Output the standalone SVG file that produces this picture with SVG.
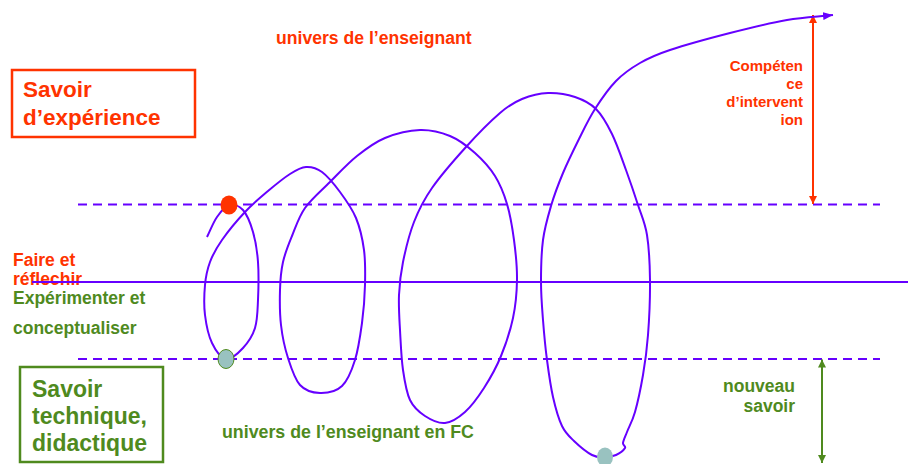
<svg xmlns="http://www.w3.org/2000/svg" width="908" height="464" viewBox="0 0 908 464">
<style>
text{font-family:"Liberation Sans",Arial,sans-serif;font-weight:bold}
.r{fill:#FF3300}
.g{fill:#4F8A1E}
.pl{stroke:#6600FF;stroke-width:2;fill:none}
.dash{stroke:#6600FF;stroke-width:2;stroke-dasharray:9 6;fill:none}
</style>
<defs>
<marker id="ap" viewBox="0 0 10 8" refX="10" refY="4" markerWidth="10" markerHeight="8" markerUnits="userSpaceOnUse" orient="auto"><path d="M0,0 L10,4 L0,8 z" fill="#6600FF"/></marker>
<marker id="ar" viewBox="0 0 8 8" refX="8" refY="4" markerWidth="8" markerHeight="8" markerUnits="userSpaceOnUse" orient="auto"><path d="M0,0 L8,4 L0,8 z" fill="#FF3300"/></marker>
<marker id="ag" viewBox="0 0 8 8" refX="8" refY="4" markerWidth="8" markerHeight="8" markerUnits="userSpaceOnUse" orient="auto"><path d="M0,0 L8,4 L0,8 z" fill="#4F8A1E"/></marker>
</defs>
<rect width="908" height="464" fill="#fff"/>

<g id="univers-enseignant"><text class="r" x="276" y="44" font-size="17.6">univers de l’enseignant</text></g>
<g id="savoir-experience">
<rect x="12" y="70" width="183" height="67" fill="none" stroke="#FF3300" stroke-width="2.5"/>
<text class="r" x="23" y="97" font-size="22.5">Savoir</text>
<text class="r" x="23" y="125" font-size="22.5">d’expérience</text>
</g>
<g id="competence">
<text class="r" font-size="15" text-anchor="end"><tspan x="803" y="71">Compéten</tspan><tspan x="803" y="89">ce</tspan><tspan x="803" y="107">d’intervent</tspan><tspan x="803" y="125">ion</tspan></text>
</g>
<g id="faire-reflechir">
<text class="r" x="13" y="266" font-size="17.5">Faire et</text>
<text class="r" x="13" y="285" font-size="17.5">réflechir</text>
</g>
<g id="experimenter">
<text class="g" x="13" y="304" font-size="17.5">Expérimenter et</text>
<text class="g" x="13" y="334" font-size="17.5">conceptualiser</text>
</g>
<g id="savoir-technique">
<rect x="20" y="367" width="143" height="95" fill="none" stroke="#4F8A1E" stroke-width="2.5"/>
<text class="g" x="32" y="397" font-size="23">Savoir</text>
<text class="g" x="32" y="423.5" font-size="23">technique,</text>
<text class="g" x="32" y="451" font-size="23">didactique</text>
</g>
<g id="univers-fc"><text class="g" x="222" y="438" font-size="17.8">univers de l’enseignant en FC</text></g>
<g id="nouveau-savoir">
<text class="g" font-size="17.5" text-anchor="end"><tspan x="795" y="392">nouveau</tspan><tspan x="795" y="412">savoir</tspan></text>
</g>

<g id="connectors">
<line class="pl" x1="32" y1="282" x2="908" y2="282"/>
<line class="dash" x1="78" y1="204.5" x2="880" y2="204.5"/>
<line class="dash" x1="78" y1="359" x2="880" y2="359"/>
<line x1="813" y1="110" x2="813" y2="15" stroke="#FF3300" stroke-width="2" marker-end="url(#ar)"/>
<line x1="813" y1="110" x2="813" y2="204" stroke="#FF3300" stroke-width="2" marker-end="url(#ar)"/>
<line x1="822" y1="410" x2="822" y2="359.5" stroke="#4F8A1E" stroke-width="2" marker-end="url(#ag)"/>
<line x1="822" y1="410" x2="822" y2="463" stroke="#4F8A1E" stroke-width="2" marker-end="url(#ag)"/>
<path id="spiral" class="pl" marker-end="url(#ap)" d="M207,237 C210.3,230.3 213.3,222.3 217,217 S224.7,206.2 229,205 S239,205.5 243,210 S250.5,223.3 253,232 S257.2,250.7 258,262 S258.5,289 258,300 S257.5,320 255,328 S247.8,342.8 243,348 S231.2,359.8 226,359 S215.5,350.3 212,343 S206.2,324.7 205,315 S204.2,293.8 205,285 S207.2,269.5 210,262 S216.2,248.3 222,240 S237.3,220.2 245,212 S260.5,197.3 268,191 S283.7,178 290,174 S300.7,167.3 306,167 S316.3,167.8 322,172 S334.3,184.3 340,192 S352,208.3 356,218 S362.5,238.8 364,250 S365.3,272.8 365,285 S363.7,310.5 362,323 S358.3,349.5 355,360 S347.8,380.5 342,386 S327,393.2 320,393 S305.3,390.8 300,385 S291.2,368 288,358 S282.3,336.3 281,325 S279.7,300.5 280,290 S281,271 283,262 S288.3,245 292,236 S298.7,217 305,208 S321.3,190.7 330,182 S347.8,163.3 357,156 S374.5,142.3 385,138 S409.2,130.3 420,130 S440.8,132.2 450,136 S467.5,146.3 475,153 S489.7,167.5 495,176 S503.8,193.3 507,204 S512.3,227.3 514,240 S517.2,267 517,280 S515.7,305.3 513,318 S505.8,344.3 501,356 S490,378.7 484,388 S471.5,406.2 465,412 S451.7,422.3 445,423 S430.8,419.8 425,416 S413.7,407.7 410,400 S404.7,381.7 403,370 S400.7,342.5 400,330 S398.5,306.3 399,295 S400.5,274.2 403,262 S409.2,234.3 414,222 S423.3,200.5 432,188 S454.7,159.5 466,147 S490.7,121 500,113 S514,102.3 522,99 S539.2,93.3 548,93 S567,94.3 575,97 S589.8,102.8 596,109 S607,123.8 612,134 S621.7,158.2 626,170 S634.5,194.2 638,205 S645,222.5 647,235 S649.8,263.3 650,280 S649.2,319.2 648,335 S645.2,362.2 643,375 S637.7,402.5 635,412 S629,426.8 627,432 S623.3,440.3 623,443 S626.2,446 625,448 S619.3,453.5 616,455 S609,457 605,457 S597.2,457.7 592,455 S579,445.8 574,441 S565.5,433.3 562,426 S555.5,408 553,397 S548.7,372.8 547,360 S544,333 543,320 S541,295.3 541,282 S541.3,252.7 543,240 S547.7,217.2 551,206 S558.3,184.2 563,173 S573.7,149.7 579,139 S588.8,118.7 595,109 S608.5,88.7 616,81 S631,68.2 640,63 S655,55 670,50 S710.5,38 730,33 S769.8,23 787,20 S817.7,16.7 833,15"/>
</g>

<g id="dot-red"><ellipse cx="229" cy="205" rx="8.5" ry="9.5" fill="#FF3300"/></g>
<g id="dot-green"><ellipse cx="226" cy="359" rx="8" ry="9.5" fill="#99C2C0" stroke="#4F8A1E" stroke-width="1"/></g>
<g id="dot-grey"><ellipse cx="605" cy="457" rx="8" ry="9.5" fill="#99C2C0"/></g>
</svg>
